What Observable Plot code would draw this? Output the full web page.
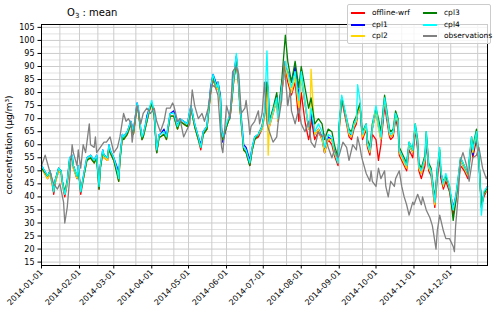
<!DOCTYPE html>
<html><head><meta charset="utf-8">
<script src="https://cdn.jsdelivr.net/npm/d3@7"></script>
<script src="https://cdn.jsdelivr.net/npm/@observablehq/plot@0.6"></script>
<style>
body{margin:0;background:#fff;font-family:"DejaVu Sans",sans-serif;}
#wrap{position:relative;width:500px;height:310px;overflow:hidden;background:#fff}
#title{position:absolute;left:67px;top:8px;font-size:10px;line-height:1;color:#000;white-space:nowrap}
#title sub{font-size:7px;vertical-align:-2px}
#ylab{position:absolute;left:9px;top:145px;font-size:9px;line-height:1;transform:translate(-50%,-50%) rotate(-90deg);white-space:nowrap;color:#000}
#legend{position:absolute;left:347px;top:4px;width:142px;height:38px;background:rgba(255,255,255,0.8);border:1px solid #ccc;border-radius:2px;font-size:7.5px;color:#000}
.li{position:absolute;height:10px;width:70px;line-height:10px;white-space:nowrap}
.li span.h{position:absolute;display:block;left:0;top:4px;width:14px;height:2px}
.li span.t{position:absolute;left:21px;top:0}
</style></head><body>
<div id="wrap"><div id="chart"></div>
<div id="title">O<sub>3</sub> : mean</div>
<div id="ylab">concentration (μg/m³)</div>
<div id="legend"></div>
</div>
<script>
// ---- data (day of year 2014, 0 = Jan 1) ----
const seriesNames = ["offline-wrf","cpl1","cpl2","cpl3","cpl4","observations"];
const seriesColors = ["#ff0000","#0000ff","#ffd700","#008000","#00ffff","#808080"];

const modelDays = [0,5,7,9,10,11,14,16,17,19, 21,23,25,26,29,30,32,35,37,40, 43,45,47,48,50,51,54,55,56,59,
 62,63,64,66,67,70,73,75,78,79, 81,82,83,85,86,88,90,92,94,96, 97,100,102,105,108,111,113,116,119,122,
 125,128,130,132,135,138,140,143,144,146, 147,148,151,154,157,159,161,162,165,167, 170,172,174,177,180,182,184,185,186,189,
 192,193,196,199,201,204,207,210,212,215, 218,219,220,223,226,229,231,234,237,239, 242,243,245,246,249,251,253,255,257,258,
 260,261,262,265,266,268,270,273,275,277, 280,281,284,285,287,289,291,292,295,298, 300,303,305,307,308,310,313,314,316,318,
 321,323,325,326,328,330,333,336,338,340, 342,345,348,351,352,355,357,359,361,364];

const offlineWrf = [51,47,49,44,41,45,50,49,45,40, 45,54,55,51,47,51,41,49,54,55, 53,55,43,51,57,55,54,59,57,54,
 49,46,54,63,62,64,68,64,75,73, 65,62,63,67,69,73,76,71,57,63, 63,64,62,71,71,66,69,68,67,74,
 67,62,58,64,66,80,85,81,83,77, 64,62,67,71,85,92,82,74,58,57, 52,58,62,63,66,71,82,78,67,72,
 77,69,80,90,84,79,84,69,80,69, 62,64,70,62,65,62,57,62,60,56, 52,66,77,75,68,63,62,66,68,72,
 75,67,62,66,59,56,64,62,54,60, 75,72,63,62,63,70,66,56,53,50, 58,55,66,58,50,47,52,62,50,48,
 36,47,56,47,43,46,42,33,38,45, 52,50,47,60,55,62,53,36,40,43];

const cpl1 = [52,48,50,45,42,46,51,50,46,41, 46,55,56,52,47,52,42,50,55,56, 54,56,45,52,58,56,55,60,58,55,
 51,47,55,64,63,65,69,65,76,74, 66,62,64,68,71,74,76,72,57,64, 64,66,63,72,73,67,70,69,68,75,
 68,63,60,65,67,82,87,83,84,79, 66,61,67,72,87,94,84,76,60,59, 54,59,63,64,67,72,84,80,69,73,
 79,71,83,90,88,84,90,79,86,76, 66,68,72,64,66,63,57,63,62,58, 53,67,78,76,69,65,63,67,69,73,
 75,68,64,67,60,57,66,73,67,62, 76,74,64,63,64,71,68,57,55,52, 60,57,67,60,52,49,54,63,51,49,
 39,49,57,48,44,48,43,36,40,46, 54,51,48,62,56,64,54,37,41,44];

const cpl2 = [51,47,49,44,42,45,50,49,45,41, 45,54,55,51,47,51,42,49,54,55, 53,55,44,51,57,55,54,59,57,54,
 49,46,54,63,62,64,68,64,75,73, 65,62,63,67,69,73,76,71,57,63, 63,64,62,71,71,66,69,68,67,74,
 67,62,59,64,66,80,86,81,83,77, 64,62,67,71,85,93,82,74,58,57, 53,58,62,64,66,71,82,56,67,72,
 77,69,81,90,86,80,86,74,86,76, 66,68,89,64,66,62,57,62,62,57, 53,66,78,76,69,64,63,67,69,72,
 75,68,63,67,60,57,66,73,66,62, 77,74,64,63,64,71,68,57,54,51, 60,57,67,60,51,49,54,64,51,49,
 37,49,58,49,44,48,43,35,39,46, 54,51,48,62,57,64,54,36,41,43];

const cpl3 = [51,48,50,45,42,46,51,50,46,42, 46,54,55,52,48,51,42,49,54,55, 53,55,43,51,57,56,55,59,57,54,
 48,46,54,63,62,64,68,64,75,73, 65,62,63,67,69,73,76,71,57,63, 63,64,62,71,71,66,69,68,67,74,
 67,62,59,64,66,80,86,82,84,78, 64,62,67,71,85,92,83,74,58,57, 52,58,62,64,67,72,84,82,69,74,
 80,72,84,102,92,84,92,82,90,82, 74,76,78,68,70,68,62,66,65,60, 55,68,78,76,70,66,65,69,71,73,
 76,69,65,68,62,59,68,74,70,65, 79,76,66,65,66,73,70,59,56,53, 61,58,68,62,53,51,56,65,53,51,
 39,51,58,49,46,48,44,31,38,47, 55,52,49,63,59,66,55,36,41,44];

const cpl4 = [52,48,50,45,42,46,51,50,46,41, 46,55,56,52,48,52,42,50,55,56, 54,56,44,52,58,56,55,60,58,55,
 50,47,55,64,63,65,69,65,76,74, 66,63,64,68,70,74,77,72,58,64, 64,65,63,72,72,67,70,69,68,75,
 68,63,59,65,67,81,87,82,84,78, 65,63,68,72,86,95,83,75,59,58, 53,59,63,64,67,72,96,81,68,73,
 78,70,82,92,88,82,88,77,88,77, 67,69,74,65,68,65,59,64,63,58, 53,68,79,77,70,65,64,68,70,83,
 77,69,64,68,61,58,67,75,68,63, 78,75,65,64,65,72,69,58,55,52, 61,58,68,61,52,50,55,65,52,50,
 38,50,59,50,45,49,44,35,40,47, 55,52,49,63,58,65,55,33,42,44];

const obsDays = [0,3,6,10,13,15,18,19,21,23, 25,26,29,30,32,34,36,39,40,43, 44,45,48,51,53,56,59,62,64,67,
 69,71,73,74,77,78,81,83,86,89, 92,94,97,100,102,105,107,108,111,113, 116,119,121,123,125,128,131,133,136,139,
 142,144,147,148,151,154,156,159,161,163, 166,167,169,170,171,174,177,178,180,182, 184,186,189,192,193,196,198,201,203,204,
 207,210,212,215,218,220,223,226,229,231, 234,237,239,242,243,246,249,251,254,257, 258,260,261,262,265,268,269,270,273,275,
 277,280,281,283,285,288,289,292,294,296, 298,300,303,304,307,310,311,314,317,319, 322,323,325,328,330,333,336,337,338,340,
 342,344,347,349,352,355,357,360,363,364];
const observations = [52,56,51,45,43,45,38,30,36,47, 60,57,52,58,51,60,57,68,60,59, 63,57,59,61,61,63,57,59,63,72,
 69,70,68,61,72,75,68,72,74,72, 74,69,65,69,74,74,76,75,69,70, 63,66,68,81,75,70,72,69,74,83,
 82,79,59,57,75,70,88,90,87,72, 74,77,69,64,67,69,73,68,72,84, 68,65,61,63,68,77,92,75,81,73,
 68,74,68,65,69,61,59,65,63,64, 59,55,58,55,56,61,59,54,60,58, 63,59,56,54,49,46,50,46,44,51,
 47,50,44,40,46,44,47,50,44,40, 37,33,38,37,41,37,40,35,32,29, 20,27,33,27,24,24,21,19,29,40,
 54,57,52,46,55,56,59,51,47,48];

const monthTicks = ["2014-01-01","2014-02-01","2014-03-01","2014-04-01","2014-05-01","2014-06-01",
 "2014-07-01","2014-08-01","2014-09-01","2014-10-01","2014-11-01","2014-12-01"];
const minorDates = ["2014-01-16","2014-02-16","2014-03-19","2014-04-19","2014-05-20","2014-06-20",
 "2014-07-20","2014-08-21","2014-09-20","2014-10-22","2014-11-21","2014-12-23"];
const yTicks = [15,20,25,30,35,40,45,50,55,60,65,70,75,80,85,90,95,100,105];
const yMinor = [17.5,22.5,27.5,32.5,37.5,42.5,47.5,52.5,57.5,62.5,67.5,72.5,77.5,82.5,87.5,92.5,97.5,102.5];

// ---- build ----
const start = Date.UTC(2014,0,1);
const toDate = d => new Date(start + d*864e5);
const modelArrays = [offlineWrf, cpl1, cpl2, cpl3, cpl4];
const rows = [];
modelArrays.forEach((arr, k) => modelDays.forEach((d,i) => rows.push({date: toDate(d), value: arr[i], series: seriesNames[k]})));
obsDays.forEach((d,i) => rows.push({date: toDate(d), value: observations[i], series: "observations"}));

const mt = monthTicks.map(s => new Date(s + "T00:00Z"));
const mn = minorDates.map(s => new Date(s + "T00:00Z"));

const chart = Plot.plot({
  width: 500, height: 310,
  marginLeft: 41, marginRight: 13, marginTop: 24, marginBottom: 45,
  style: {fontFamily: "DejaVu Sans, sans-serif", fontSize: "8px", color: "#000", background: "#fff"},
  x: {type: "utc", domain: [new Date("2014-01-01T00:00Z"), new Date("2014-12-31T00:00Z")],
      ticks: mt, tickFormat: d3.utcFormat("%Y-%m-%d"), tickRotate: -45, tickSize: 3.5, tickPadding: 2, label: null},
  y: {domain: [13.7, 106.1], ticks: yTicks, tickSize: 3.5, tickPadding: 3.5, label: null},
  color: {domain: seriesNames, range: seriesColors},
  marks: [
    Plot.ruleY(yMinor, {stroke: "#e2e2e2", strokeWidth: 1}),
    Plot.ruleY(yTicks, {stroke: "#cccccc", strokeWidth: 1}),
    Plot.ruleX(mn, {stroke: "#cccccc", strokeWidth: 1}),
    Plot.ruleX(mt, {stroke: "#cccccc", strokeWidth: 1}),
    Plot.line(rows, {x: "date", y: "value", z: "series", stroke: "series", strokeWidth: 1.3, curve: "linear"}),
    Plot.frame({stroke: "#000", strokeWidth: 1})
  ]
});
document.getElementById("chart").appendChild(chart);

// legend
const lg = document.getElementById("legend");
const pos = [[3,3],[3,14.7],[3,26.3],[75,3],[75,14.7],[75,26.3]];
seriesNames.forEach((n,i) => {
  const d = document.createElement("div");
  d.className = "li";
  d.style.left = pos[i][0] + "px"; d.style.top = pos[i][1] + "px";
  d.innerHTML = `<span class="h" style="background:${seriesColors[i]}"></span><span class="t">${n}</span>`;
  lg.appendChild(d);
});
</script>
</body></html>
